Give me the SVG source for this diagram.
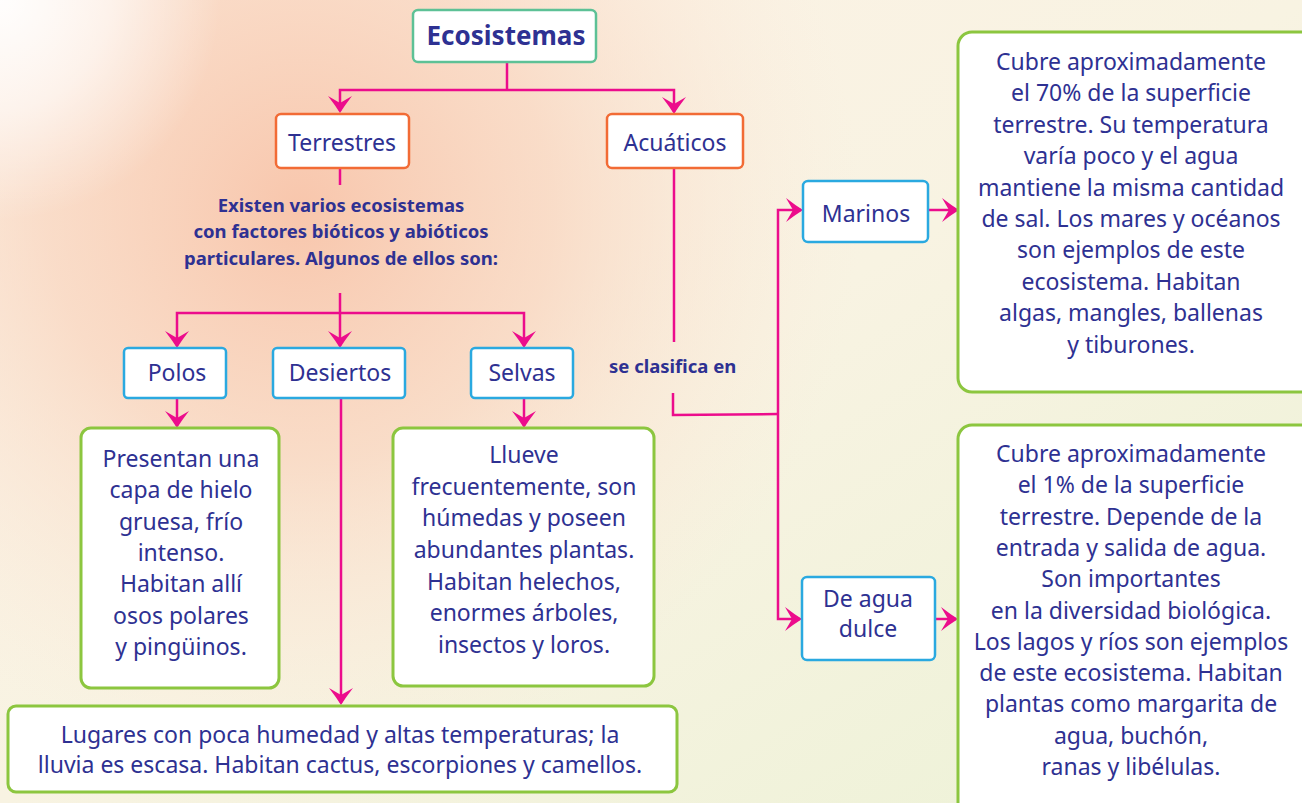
<svg xmlns="http://www.w3.org/2000/svg" width="1302" height="803" viewBox="0 0 1302 803">
<defs>
  <linearGradient id="bg" x1="0" y1="0" x2="1" y2="1">
    <stop offset="0" stop-color="#fdf1e6"/>
    <stop offset="0.5" stop-color="#f8f3e2"/>
    <stop offset="1" stop-color="#ecf2d6"/>
  </linearGradient>
  <radialGradient id="warm" cx="300" cy="210" r="560" gradientUnits="userSpaceOnUse">
    <stop offset="0" stop-color="#f8c6ac" stop-opacity="1"/>
    <stop offset="0.45" stop-color="#f9d5bf" stop-opacity="0.75"/>
    <stop offset="1" stop-color="#fbe9da" stop-opacity="0"/>
  </radialGradient>
  <radialGradient id="whiteTL" cx="0" cy="0" r="220" gradientUnits="userSpaceOnUse">
    <stop offset="0" stop-color="#ffffff" stop-opacity="0.95"/>
    <stop offset="0.5" stop-color="#ffffff" stop-opacity="0.6"/>
    <stop offset="1" stop-color="#ffffff" stop-opacity="0"/>
  </radialGradient>
  <marker id="ah" viewBox="-20 -14 22 28" markerWidth="22" markerHeight="28" refX="-2" refY="0" orient="auto" markerUnits="userSpaceOnUse">
    <path d="M0,0 Q-8,-5 -17,-12 L-10,0 L-17,12 Q-8,5 0,0 Z" fill="#ec0c8c"/>
  </marker>
  <style>
    .t { font-family: "Noto Sans", "Liberation Sans", sans-serif; fill: #2e3192; font-size: 23px; text-anchor: middle; }
    .b { font-family: "Noto Sans", "Liberation Sans", sans-serif; fill: #2e3192; font-size: 18.5px; font-weight: bold; }
    .title { font-size: 26px; font-weight: bold; }
    .box { fill: #ffffff; stroke-width: 2.5; }
    .teal { stroke: #5dc196; }
    .orange { stroke: #f26b35; }
    .blue { stroke: #2aa9e0; }
    .green { stroke: #8cc63f; stroke-width: 3; }
    .con { fill: none; stroke: #ec0c8c; stroke-width: 2.5; }
    .arr { marker-end: url(#ah); }
  </style>
</defs>

<rect x="0" y="0" width="1302" height="803" fill="url(#bg)"/>
<rect x="0" y="0" width="1302" height="803" fill="url(#warm)"/>
<rect x="0" y="0" width="300" height="300" fill="url(#whiteTL)"/>

<g id="connectors">
  <path class="con" d="M507,62 L507,90"/>
  <path class="con arr" d="M507,90 L340,90 L340,111"/>
  <path class="con arr" d="M507,90 L674,90 L674,112"/>
  <path class="con" d="M340,168 L340,185"/>
  <path class="con" d="M340,293 L340,313"/>
  <path class="con arr" d="M340,313 L177,313 L177,346"/>
  <path class="con arr" d="M340,313 L340,346"/>
  <path class="con arr" d="M340,313 L524,313 L524,346"/>
  <path class="con arr" d="M177,398 L177,426"/>
  <path class="con arr" d="M524,398 L524,426"/>
  <path class="con arr" d="M341,398 L341,703"/>
  <path class="con" d="M674,168 L674,342"/>
  <path class="con" d="M673,393 L673,415 L778,414"/>
  <path class="con arr" d="M778,414 L778,210 L801,210"/>
  <path class="con arr" d="M778,414 L778,619 L800,619"/>
  <path class="con arr" d="M928,210 L957,210"/>
  <path class="con arr" d="M935,619 L956,619"/>
</g>

<g id="ecosistemas">
  <rect class="box teal" x="413" y="10" width="183" height="52" rx="5"/>
  <text class="t title" x="506" y="45">Ecosistemas</text>
</g>

<g id="terrestres">
  <rect class="box orange" x="276" y="114" width="133" height="54" rx="5"/>
  <text class="t" x="342" y="151">Terrestres</text>
</g>

<g id="acuaticos">
  <rect class="box orange" x="607" y="114" width="136" height="54" rx="5"/>
  <text class="t" x="675" y="151">Acuáticos</text>
</g>

<g id="existen">
  <text class="b" x="341" y="212" text-anchor="middle">Existen varios ecosistemas</text>
  <text class="b" x="341" y="238" text-anchor="middle">con factores bióticos y abióticos</text>
  <text class="b" x="341" y="265" text-anchor="middle">particulares. Algunos de ellos son:</text>
</g>

<g id="polos">
  <rect class="box blue" x="124" y="348" width="102" height="50" rx="4"/>
  <text class="t" x="177" y="381">Polos</text>
</g>

<g id="desiertos">
  <rect class="box blue" x="273" y="348" width="132" height="50" rx="4"/>
  <text class="t" x="340" y="381">Desiertos</text>
</g>

<g id="selvas">
  <rect class="box blue" x="471" y="348" width="102" height="50" rx="4"/>
  <text class="t" x="522" y="381">Selvas</text>
</g>

<g id="polos-desc">
  <rect class="box green" x="81" y="428" width="198" height="260" rx="10"/>
  <text class="t" x="181" y="467">Presentan una</text>
  <text class="t" x="181" y="498">capa de hielo</text>
  <text class="t" x="181" y="530">gruesa, frío</text>
  <text class="t" x="181" y="561">intenso.</text>
  <text class="t" x="181" y="592">Habitan allí</text>
  <text class="t" x="181" y="624">osos polares</text>
  <text class="t" x="181" y="655">y pingüinos.</text>
</g>

<g id="selvas-desc">
  <rect class="box green" x="393" y="428" width="261" height="258" rx="10"/>
  <text class="t" x="524" y="463">Llueve</text>
  <text class="t" x="524" y="495">frecuentemente, son</text>
  <text class="t" x="524" y="526">húmedas y poseen</text>
  <text class="t" x="524" y="558">abundantes plantas.</text>
  <text class="t" x="524" y="590">Habitan helechos,</text>
  <text class="t" x="524" y="621">enormes árboles,</text>
  <text class="t" x="524" y="653">insectos y loros.</text>
</g>

<g id="desiertos-desc">
  <rect class="box green" x="8" y="706" width="669" height="86" rx="8"/>
  <text class="t" x="340" y="743">Lugares con poca humedad y altas temperaturas; la</text>
  <text class="t" x="340" y="773">lluvia es escasa. Habitan cactus, escorpiones y camellos.</text>
</g>

<g id="se-clasifica">
  <text class="b" x="609" y="373">se clasifica en</text>
</g>

<g id="marinos">
  <rect class="box blue" x="803" y="181" width="125" height="61" rx="5"/>
  <text class="t" x="866" y="222">Marinos</text>
</g>

<g id="dulce">
  <rect class="box blue" x="802" y="577" width="133" height="83" rx="5"/>
  <text class="t" x="868" y="607">De agua</text>
  <text class="t" x="868" y="637">dulce</text>
</g>

<g id="marinos-desc">
  <rect class="box green" x="958" y="32" width="360" height="360" rx="14"/>
  <text class="t" x="1131" y="70">Cubre aproximadamente</text>
  <text class="t" x="1131" y="101">el 70% de la superficie</text>
  <text class="t" x="1131" y="133">terrestre. Su temperatura</text>
  <text class="t" x="1131" y="164">varía poco y el agua</text>
  <text class="t" x="1131" y="196">mantiene la misma cantidad</text>
  <text class="t" x="1131" y="227">de sal. Los mares y océanos</text>
  <text class="t" x="1131" y="258">son ejemplos de este</text>
  <text class="t" x="1131" y="290">ecosistema. Habitan</text>
  <text class="t" x="1131" y="321">algas, mangles, ballenas</text>
  <text class="t" x="1131" y="353">y tiburones.</text>
</g>

<g id="dulce-desc">
  <rect class="box green" x="958" y="425" width="360" height="395" rx="14"/>
  <text class="t" x="1131" y="462">Cubre aproximadamente</text>
  <text class="t" x="1131" y="493">el 1% de la superficie</text>
  <text class="t" x="1131" y="525">terrestre. Depende de la</text>
  <text class="t" x="1131" y="556">entrada y salida de agua.</text>
  <text class="t" x="1131" y="587">Son importantes</text>
  <text class="t" x="1131" y="619">en la diversidad biológica.</text>
  <text class="t" x="1131" y="650">Los lagos y ríos son ejemplos</text>
  <text class="t" x="1131" y="681">de este ecosistema. Habitan</text>
  <text class="t" x="1131" y="712">plantas como margarita de</text>
  <text class="t" x="1131" y="744">agua, buchón,</text>
  <text class="t" x="1131" y="775">ranas y libélulas.</text>
</g>
</svg>
